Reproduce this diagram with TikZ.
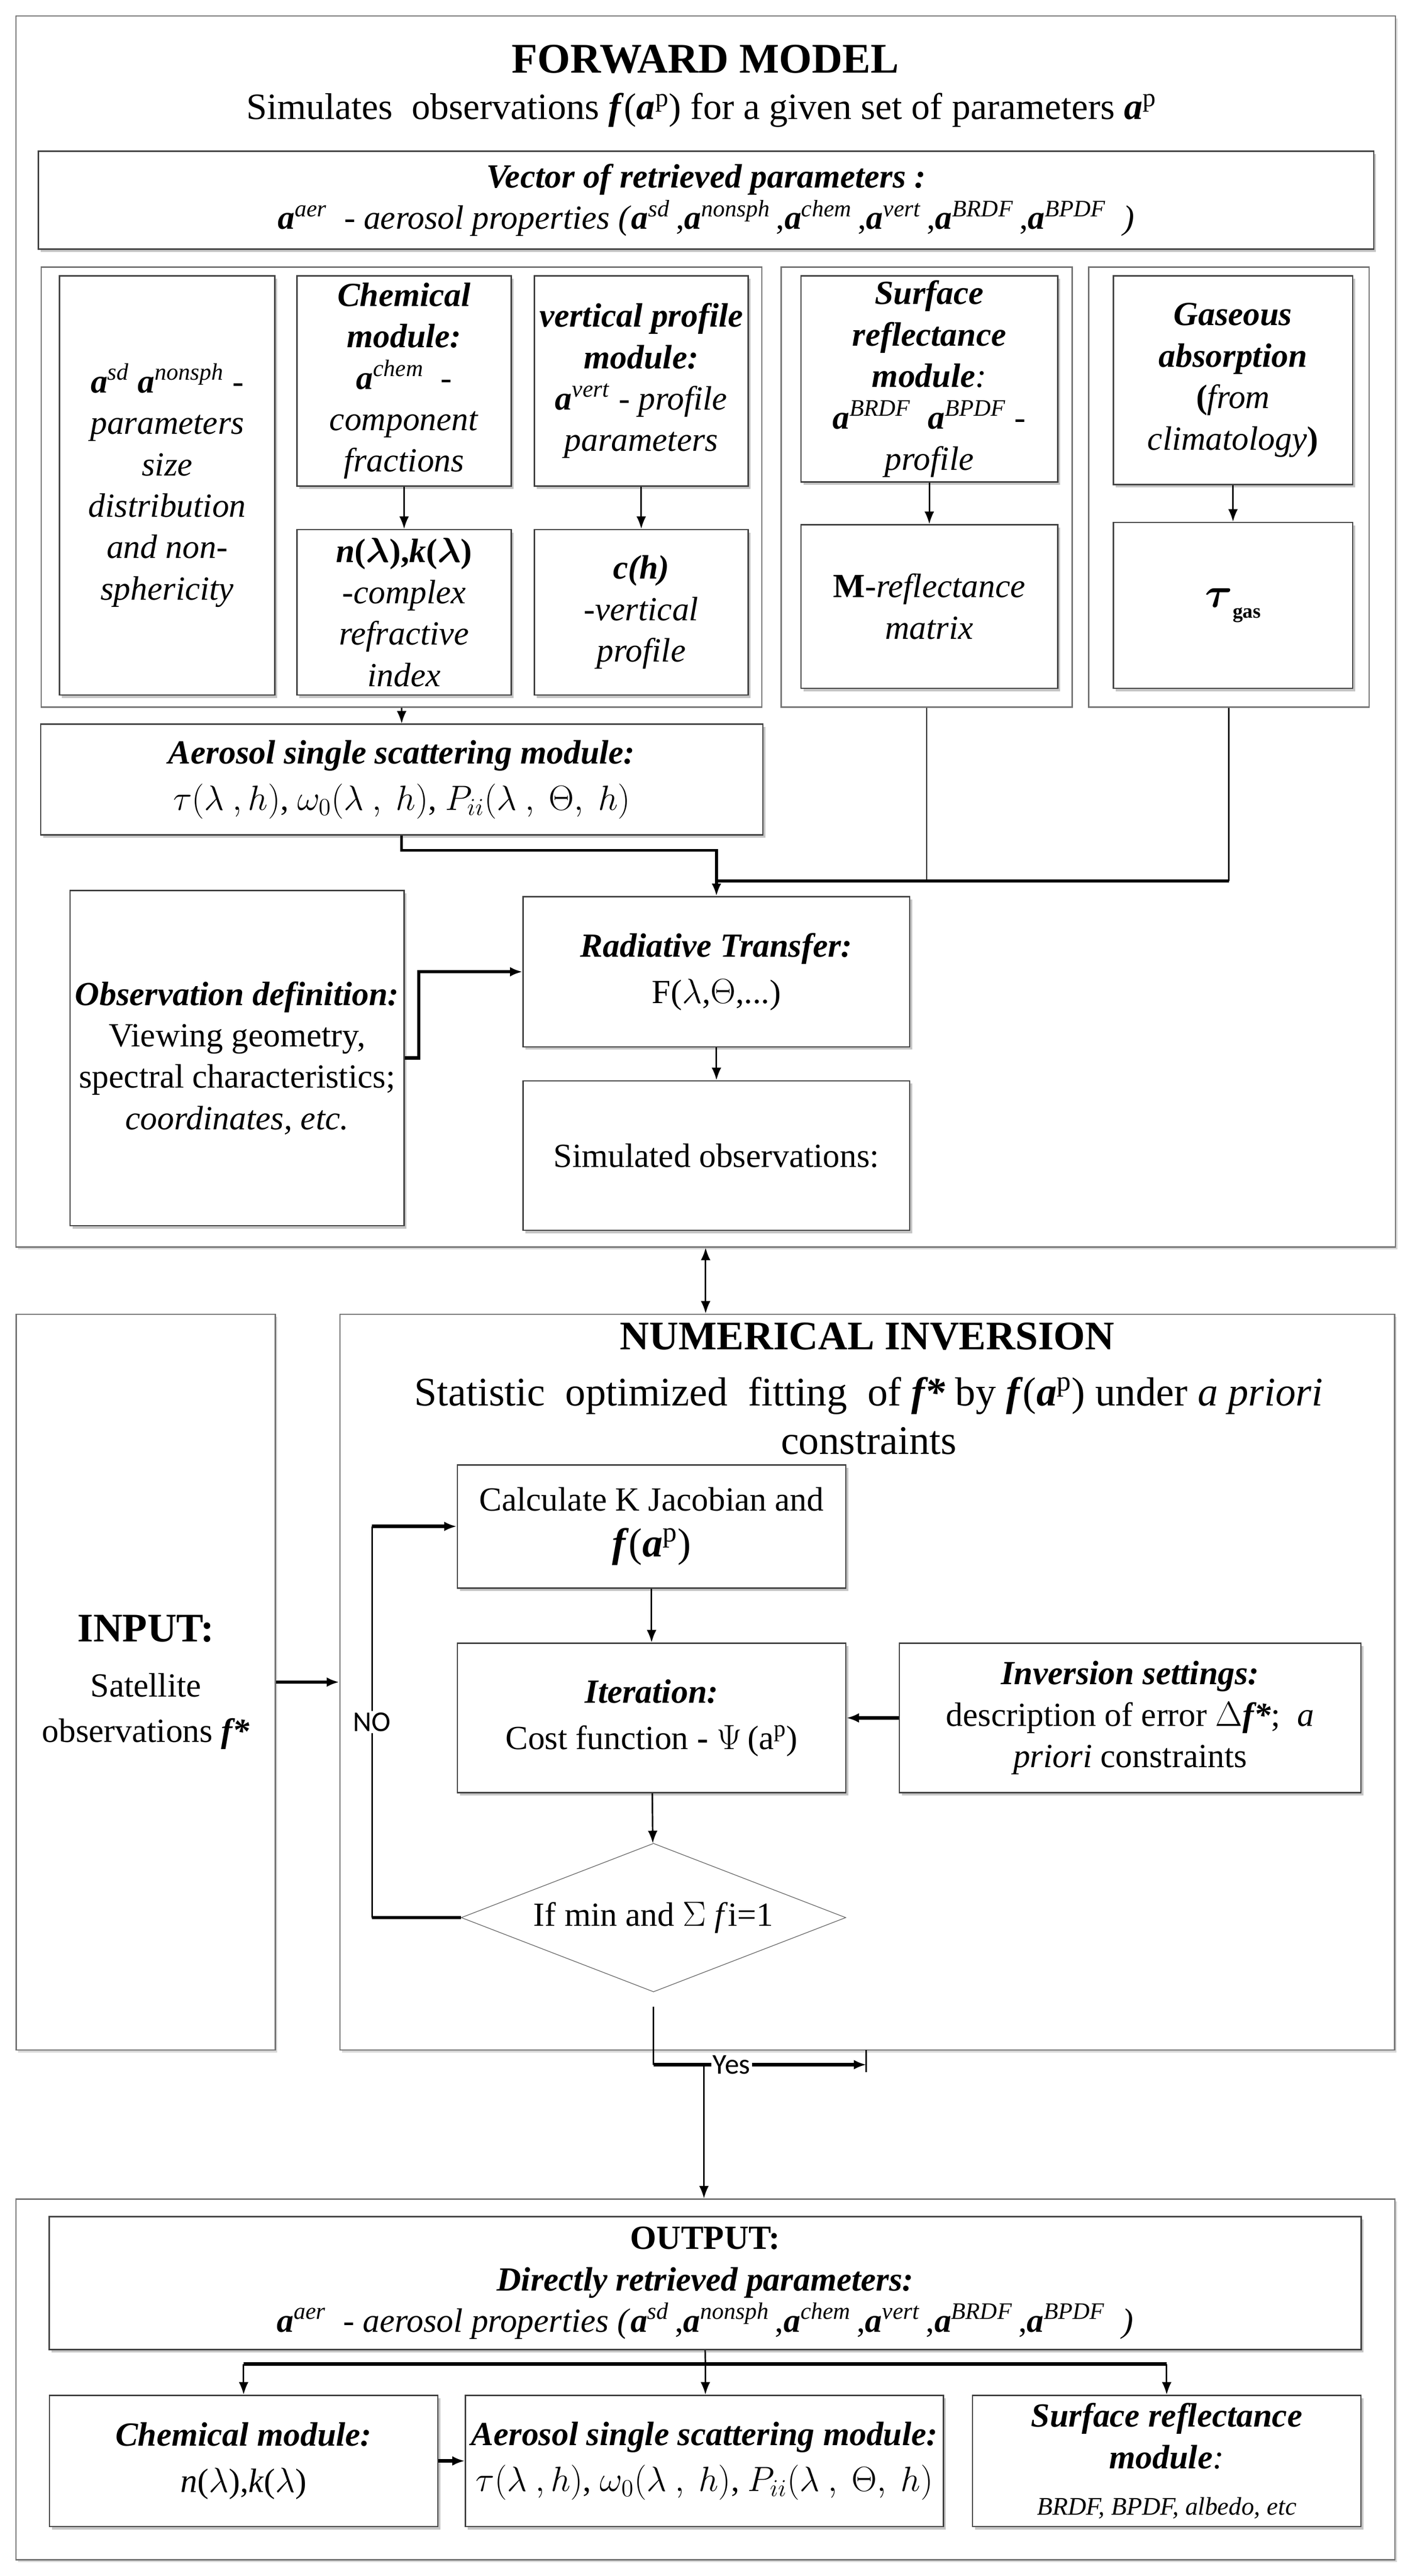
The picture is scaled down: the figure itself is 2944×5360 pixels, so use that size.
\documentclass[tikz,border=0pt]{standalone}
\usepackage{amsmath,amssymb}
\usepackage{fontspec}
\setmainfont{Liberation Serif}
\newfontfamily\lblfont{Carlito}
\usetikzlibrary{arrows.meta,shapes.geometric,shadows,positioning}

\newcommand{\bi}[1]{\textbf{\textit{#1}}}
\newcommand{\va}[1]{\textbf{\textit{a}}\textsuperscript{\textit{#1}}}
\newcommand{\fap}{\textbf{\textit{f}}(\textbf{\textit{a}}\textsuperscript{p})}
\newcommand{\aerline}{\va{aer}\ \ \textit{- aerosol properties (}\va{sd}\,,\va{nonsph}\,,\va{chem}\,,\va{vert}\,,\va{BRDF}\,,\va{BPDF}\ \ \textit{)}}
\newcommand{\ssaline}{$\tau(\lambda\ ,h)$, $\omega_0(\lambda\ ,\ h)$, $P_{ii}(\lambda\ ,\ \Theta,\ h)$}

\tikzset{
  box/.style={draw=black!75, line width=0.8pt, fill=white, align=center, inner sep=2pt,
    drop shadow={shadow xshift=0.5mm, shadow yshift=-0.6mm, fill=black!45},
    font=\fontsize{20}{24.5}\selectfont},
  grp/.style={draw=black!55, line width=0.8pt},
  outer/.style={grp, fill=white, drop shadow={shadow xshift=0.4mm, shadow yshift=-0.5mm, fill=black!30}},
  big/.style={align=center, font=\fontsize{24}{28.5}\selectfont},
  dec/.style={diamond, draw=black!60, fill=white, aspect=2.6, inner sep=0pt,
    minimum width=8cm, minimum height=3.09cm, font=\fontsize{20}{24}\selectfont},
  arr/.style={->, line width=0.9pt},
  tarr/.style={->, line width=2pt},
  lbl/.style={fill=white, inner sep=1pt, font=\lblfont\fontsize{17}{19}\selectfont}
}

\begin{document}
\begin{tikzpicture}[x=0.01cm, y=-0.01cm, >={Latex[length=2.6mm,width=2mm]}]
  \useasboundingbox (0,0) rectangle (2944,5360);

  % Modelo directo
  \node[outer, minimum width=28.69cm, minimum height=25.6cm] (fwd) at (1468.5,1314) {};
  \node[big, font=\fontsize{25}{30}\selectfont] (fwdt) at (1468,123) {\textbf{FORWARD MODEL}};
  \node[big, font=\fontsize{22}{26}\selectfont] (fwds) at (1460,229) {Simulates\ \ observations \fap{} for a given set of parameters \textbf{\textit{a}}\textsuperscript{p}};
  \node[box, minimum width=27.77cm, minimum height=2.03cm] (vec) at (1469.5,416.5)
    {\bi{Vector of retrieved parameters :}\\ \aerline};

  % Grupos de modulos
  \node[grp, minimum width=14.99cm, minimum height=9.15cm] (gmic) at (835.5,1013.5) {};
  \node[grp, minimum width=6.05cm, minimum height=9.15cm] (gsurf) at (1928.5,1013.5) {};
  \node[grp, minimum width=5.83cm, minimum height=9.15cm] (ggas) at (2557.5,1013.5) {};

  \node[box, minimum width=4.48cm, minimum height=8.72cm] (sd) at (348,1010)
    {\va{sd} \va{nonsph} -\\ \textit{parameters}\\ \textit{size}\\ \textit{distribution}\\ \textit{and non-}\\ \textit{sphericity}};
  \node[box, minimum width=4.46cm, minimum height=4.37cm] (chem) at (841,792.5)
    {\bi{Chemical}\\ \bi{module:}\\ \va{chem}\ \ -\\ \textit{component}\\ \textit{fractions}};
  \node[box, minimum width=4.46cm, minimum height=3.44cm] (nk) at (841,1274)
    {\textbf{\textit{n}({\boldmath$\lambda$}),\textit{k}({\boldmath$\lambda$})}\\ \textit{-complex}\\ \textit{refractive}\\ \textit{index}};
  \node[box, minimum width=4.45cm, minimum height=4.37cm] (vert) at (1334.5,792.5)
    {\bi{vertical profile}\\ \bi{module:}\\ \va{vert} \textit{- profile}\\ \textit{parameters}};
  \node[box, minimum width=4.45cm, minimum height=3.44cm] (ch) at (1334.5,1274)
    {\bi{c(h)}\\ \textit{-vertical}\\ \textit{profile}};
  \node[box, minimum width=5.34cm, minimum height=4.29cm] (surf) at (1934,788.5)
    {\bi{Surface}\\ \bi{reflectance}\\ \bi{module}\textit{:}\\ \va{BRDF}\ \ \va{BPDF} -\\ \textit{profile}};
  \node[box, minimum width=5.34cm, minimum height=3.40cm] (mref) at (1934,1262)
    {\textbf{M}-\textit{reflectance}\\ \textit{matrix}};
  \node[box, minimum width=4.98cm, minimum height=4.34cm] (gas) at (2566,791)
    {\bi{Gaseous}\\ \bi{absorption}\\ \textbf{(}\textit{from}\\ \textit{climatology}\textbf{)}};
  \node[box, minimum width=4.98cm, minimum height=3.45cm, font=\fontsize{28}{32}\selectfont] (tgas) at (2566,1259.5)
    {$\boldsymbol{\tau}$\raisebox{-0.5ex}{\fontsize{12}{14}\selectfont\textbf{gas}}};

  % Dispersion, observacion y transferencia
  \node[box, minimum width=15.02cm, minimum height=2.30cm] (aer) at (836,1622)
    {\bi{Aerosol single scattering module:}\\[1mm] \ssaline};
  \node[box, minimum width=6.95cm, minimum height=6.97cm] (obs) at (493.5,2201.5)
    {\bi{Observation definition:}\\ Viewing geometry,\\ spectral characteristics;\\ \textit{coordinates, etc.}};
  \node[box, minimum width=8.04cm, minimum height=3.12cm] (rt) at (1491,2022)
    {\bi{Radiative Transfer:}\\[1mm] F($\lambda$,$\Theta$,...)};
  \node[box, minimum width=8.04cm, minimum height=3.11cm] (sim) at (1491,2404.5)
    {Simulated observations:};

  \draw[arr] (chem) -- (nk);
  \draw[arr] (vert) -- (ch);
  \draw[arr] (surf) -- (mref);
  \draw[arr] (gas) -- (tgas);
  \draw[arr] (gmic) -- (aer);
  \coordinate (ja) at (1491,1769);
  \coordinate (jn) at (1491,1833);
  \draw[tarr, line width=1.6pt] (aer.south) |- (ja) -- (rt.north);
  \draw[line width=0.9pt] (gsurf.south) -- (gsurf.south |- jn);
  \draw[line width=0.9pt] (ggas.south) -- (ggas.south |- jn);
  \draw[line width=2pt] (ggas.south |- jn) -- (jn);
  \draw[tarr] (obs.east) -- ++(29,0) |- (rt.west);
  \draw[arr] (rt) -- (sim);

  % Inversion numerica
  \node[outer, minimum width=5.39cm, minimum height=15.30cm, align=center, font=\fontsize{20}{24}\selectfont] (inp) at (303.5,3500)
    {{\fontsize{24}{28}\selectfont\textbf{INPUT:}}\\[3mm] Satellite\\[1mm] observations \bi{f*}};
  \node[outer, minimum width=21.94cm, minimum height=15.30cm] (inv) at (1805,3500) {};
  \node[big] (invt) at (1805,2781) {\textbf{NUMERICAL INVERSION}};
  \node[big] (invs) at (1808,2946)
    {Statistic\ \ optimized\ \ fitting\ \ of \bi{f*} by \fap{} under \textit{a priori}\\ constraints};
  \node[box, minimum width=8.08cm, minimum height=2.56cm] (calc) at (1356,3176)
    {Calculate K Jacobian and\\[1mm] {\fontsize{24}{28}\selectfont\fap}};
  \node[box, minimum width=8.08cm, minimum height=3.11cm] (iter) at (1356,3574.5)
    {\bi{Iteration:}\\[1mm] Cost function \textbf{-} $\Psi$\,(a\textsuperscript{p})};
  \node[box, minimum width=9.60cm, minimum height=3.11cm] (set) at (2352,3574.5)
    {\bi{Inversion settings:}\\ description of error $\Delta$\bi{f*};\ \ \textit{a}\\ \textit{priori} constraints};
  \node[dec] (dec) at (1360,3990) {If min and $\Sigma$ \textit{f}i=1};

  \draw[<->, line width=0.9pt] (fwd.south) -- (fwd.south |- inv.north);
  \draw[tarr] (inp) -- (inv);
  \draw[arr] (calc) -- (iter);
  \draw[tarr] (set) -- (iter);
  \draw[arr] (iter) -- (dec);
  \coordinate (lp) at (774,3990);
  \coordinate (lt) at (lp |- calc.west);
  \draw[line width=2pt] (dec.west) -- (lp);
  \draw[line width=0.9pt] (lp) -- node[lbl] (no) {NO} (lt);
  \draw[tarr] (lt) -- (calc.west);

  % Salida
  \coordinate (ya) at (1360,4175);
  \coordinate (yj) at (1465,4296);
  \coordinate (ye) at (1803,4296);
  \draw[line width=0.9pt] (ya) -- (ya |- yj);
  \draw[line width=2pt] (ya |- yj) -- (yj);
  \draw[tarr] (yj) -- node[lbl, pos=0.17] (yes) {Yes} (ye);
  \draw[line width=0.9pt] (ye) ++(0,-31) -- ++(0,47);

  \node[outer, minimum width=28.68cm, minimum height=7.50cm] (outf) at (1468,4951) {};
  \draw[arr] (yj) -- (yj |- outf.north);
  \node[box, minimum width=27.29cm, minimum height=2.77cm] (outp) at (1467.5,4750.5)
    {\textbf{OUTPUT:}\\ \bi{Directly retrieved parameters:}\\ \aerline};
  \node[box, minimum width=8.08cm, minimum height=2.73cm] (chem2) at (507,5120.5)
    {\bi{Chemical module:}\\[1mm] \textit{n}($\lambda$),\textit{k}($\lambda$)};
  \node[box, minimum width=9.94cm, minimum height=2.73cm] (aer2) at (1466,5120.5)
    {\bi{Aerosol single scattering module:}\\[1mm] \ssaline};
  \node[box, minimum width=8.08cm, minimum height=2.73cm] (surf2) at (2428,5120.5)
    {\bi{Surface reflectance}\\ \bi{module}\textit{:}\\[1mm] {\fontsize{15}{18}\selectfont\textit{BRDF, BPDF, albedo, etc}}};

  \coordinate (br) at (1468,4919);
  \draw[line width=0.9pt] (outp.south) -- (br);
  \draw[line width=2pt] (chem2.north |- br) -- (surf2.north |- br);
  \draw[arr] (chem2.north |- br) -- (chem2.north);
  \draw[arr] (br) -- (br |- aer2.north);
  \draw[arr] (surf2.north |- br) -- (surf2.north);
  \draw[tarr] (chem2) -- (aer2);
\end{tikzpicture}
\end{document}
